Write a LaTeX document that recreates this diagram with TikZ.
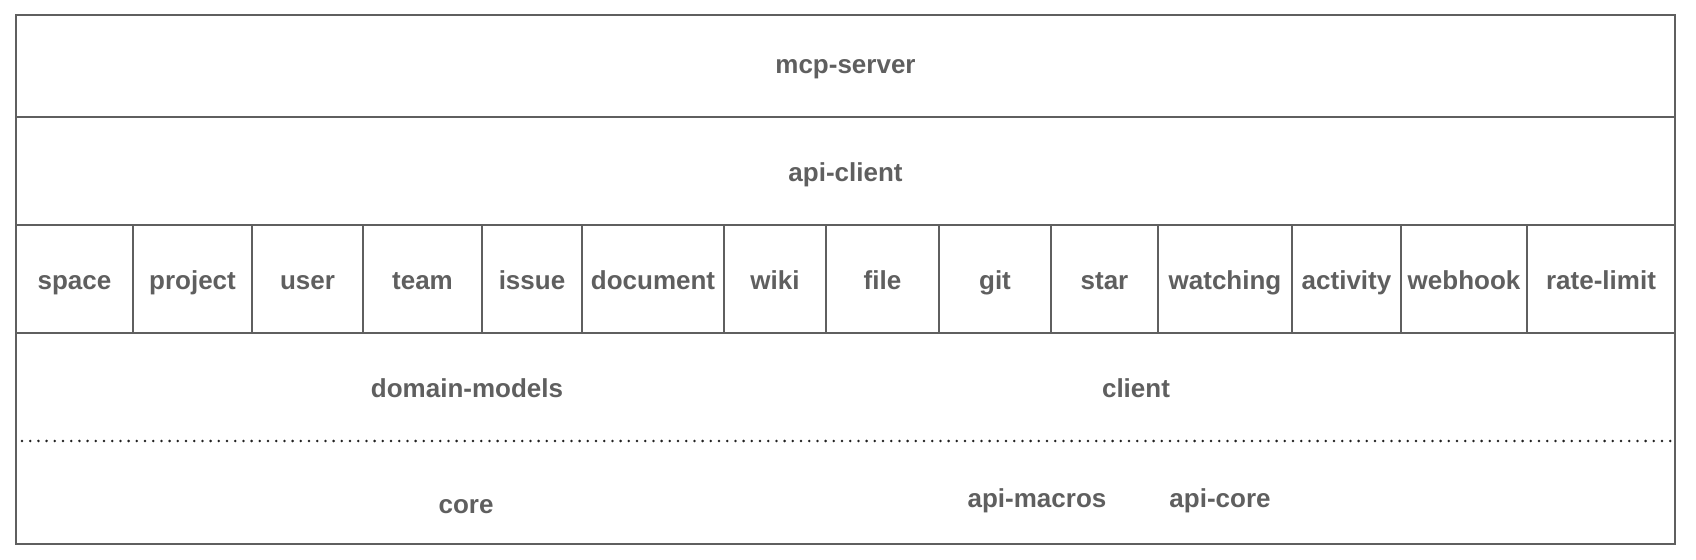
\documentclass[tikz,border=0pt]{standalone}
\usepackage{fontspec}
\setsansfont{Liberation Sans}
\usepackage{tikz}
\usetikzlibrary{positioning}
\definecolor{xgray}{HTML}{5F5F5F}
\definecolor{xdot}{HTML}{222222}
\tikzset{
  label text/.style = {text=xgray, font=\sffamily\bfseries\fontsize{13}{16}\selectfont, text height=0.92em, text depth=0.14em, inner sep=0pt},
  layer/.style = {label text, draw=xgray, line width=1pt, minimum width=#1, minimum height=54pt},
  divider/.style = {draw=xdot, line width=1.4pt, line cap=round, dash pattern=on 0pt off 4.1pt},
}

\begin{document}
\begin{tikzpicture}[x=0.5pt, y=-0.5pt]
	\useasboundingbox (0,0) rectangle (1696,560);
	% top layers
	\node[layer=829.5pt, minimum height=51pt] (mcpserver) at (845.5,66) {mcp-server};
	\node[layer=829.5pt] (apiclient) at (845.5,171) {};
	\node[label text] (apiclientname) at (845.5,174) {api-client};
	% one cell per module
	\foreach \name/\l/\r in {space/16/133, project/133/252, user/252/363, team/363/482, issue/482/582, document/582/724, wiki/724/826, file/826/939, git/939/1051, star/1051/1158, watching/1158/1292, activity/1292/1401, webhook/1401/1527, rate-limit/1527/1675}
		\node[layer={(\r-\l)*0.5pt}, text height=1.06em, text depth=0em] (\name) at ({(\l+\r)/2},279) {\name};
	% bottom layer with the shared crates
	\node[layer=829.5pt, minimum height=105.5pt] (base) at (845.5,438.5) {};
	\coordinate (dotl) at (22,441);
	\coordinate (dotr) at (1673,441);
	\draw[divider] (dotl) -- (dotr);
	\node[label text] (domainmodels) at (467,390) {domain-models};
	\node[label text] (client) at (1136,390) {client};
	\node[label text] (core) at (466,506) {core};
	\node[label text] (apimacros) at (1037,500) {api-macros};
	\node[label text] (apicore) at (1220,500) {api-core};
\end{tikzpicture}
\end{document}
